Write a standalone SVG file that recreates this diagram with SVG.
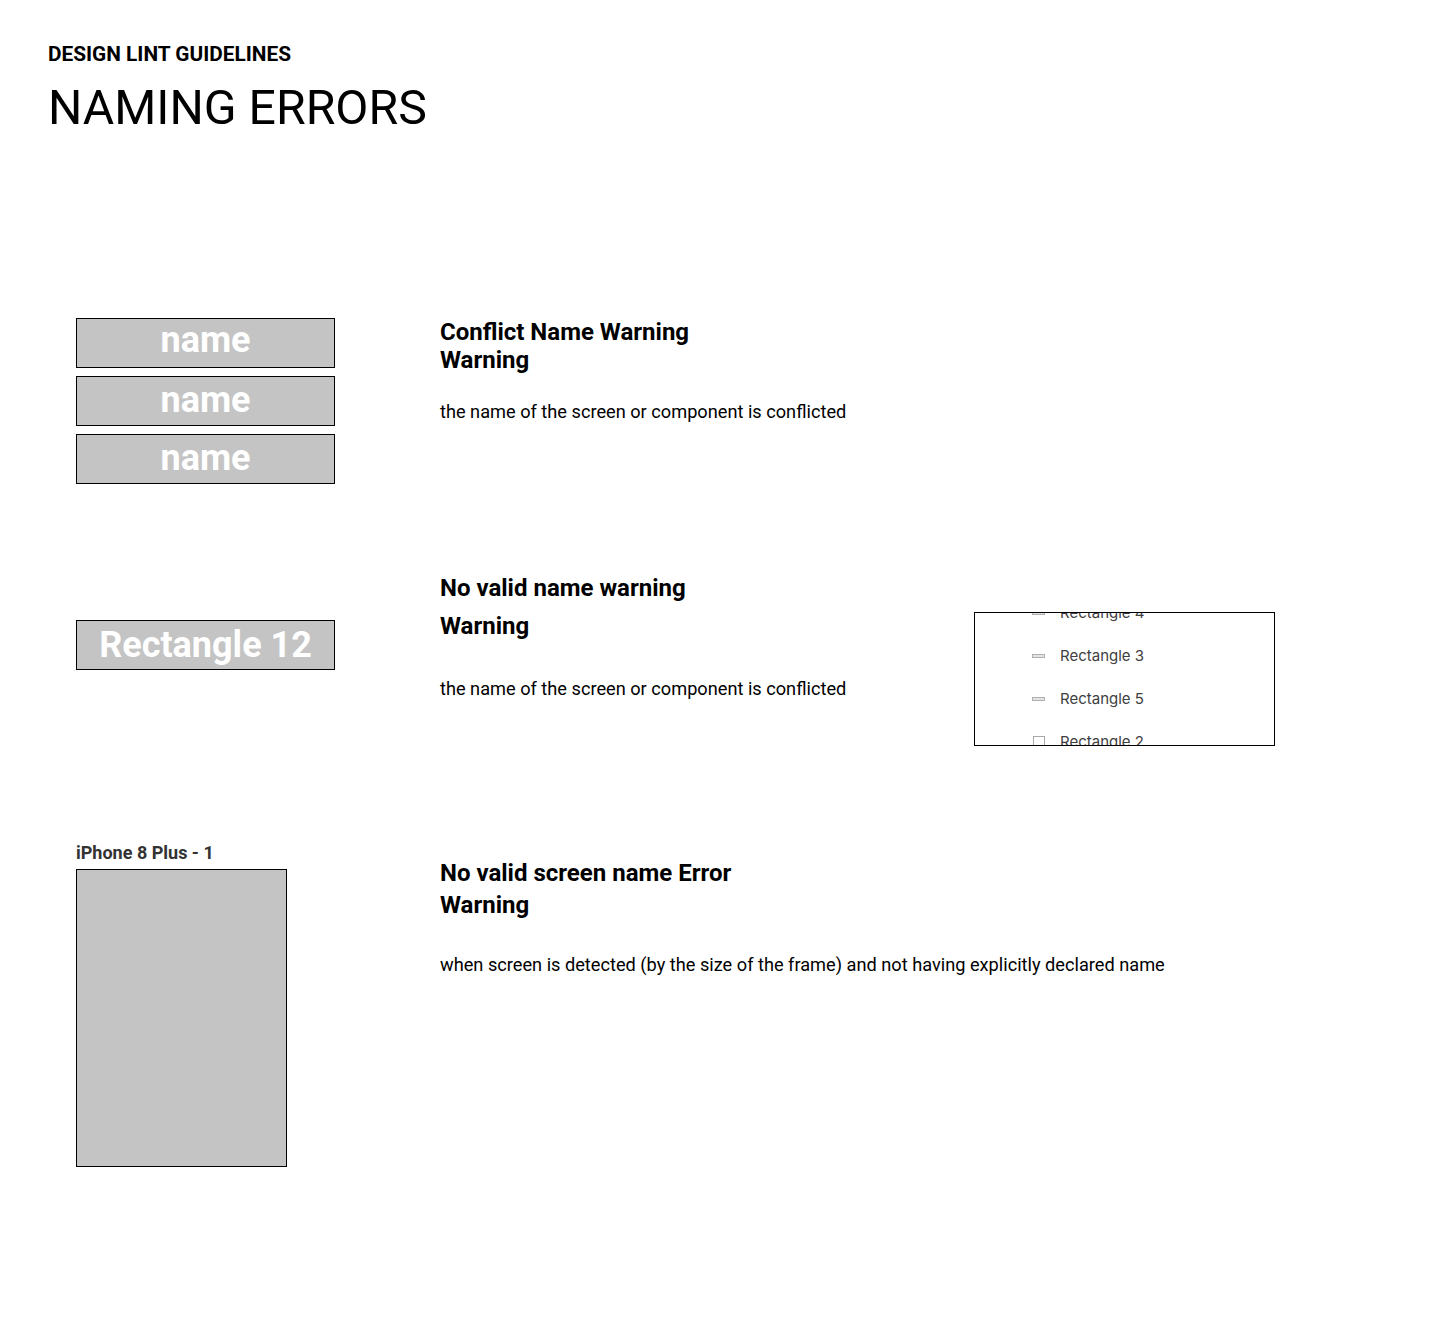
<svg xmlns="http://www.w3.org/2000/svg" width="1440" height="1333" viewBox="0 0 1440 1333">
<style>
.rb{font-family:Roboto,"Liberation Sans",sans-serif;font-weight:bold;}
.rr{font-family:Roboto,"Liberation Sans",sans-serif;font-weight:normal;}
.box{fill:#C4C4C4;stroke:#000;stroke-width:1;}
.lbl{fill:#fff;font-size:36px;text-anchor:middle;}
.h{font-size:24px;fill:#000;}
.b{font-size:18.2px;fill:#000;}
.ly{font-family:Inter,"Liberation Sans",sans-serif;font-size:15px;fill:#404040;}
.bar{fill:#e3e3e3;stroke:#b0b0b0;stroke-width:1;}
</style>
<defs>
<clipPath id="panelClip"><rect x="975" y="613" width="299" height="132"/></clipPath>
</defs>
<rect width="1440" height="1333" fill="#fff"/>
<g id="header">
<text class="rb" x="48" y="61" font-size="20.8" fill="#000">DESIGN LINT GUIDELINES</text>
<text class="rr" x="48" y="124" font-size="48.2" fill="#000">NAMING ERRORS</text>
</g>
<g id="conflict-boxes">
<rect class="box" x="76.5" y="318.5" width="258" height="49"/>
<text class="rb lbl" x="205.5" y="352">name</text>
<rect class="box" x="76.5" y="376.5" width="258" height="49"/>
<text class="rb lbl" x="205.5" y="412">name</text>
<rect class="box" x="76.5" y="434.5" width="258" height="49"/>
<text class="rb lbl" x="205.5" y="470">name</text>
</g>
<g id="conflict-text">
<text class="rb h" x="440" y="340">Conflict Name Warning</text>
<text class="rb h" x="440" y="368">Warning</text>
<text class="rr b" x="440" y="418">the name of the screen or component is conflicted</text>
</g>
<g id="rect12">
<rect class="box" x="76.5" y="620.5" width="258" height="49"/>
<text class="rb lbl" x="205.5" y="657">Rectangle 12</text>
</g>
<g id="novalid-text">
<text class="rb h" x="440" y="596">No valid name warning</text>
<text class="rb h" x="440" y="634">Warning</text>
<text class="rr b" x="440" y="695">the name of the screen or component is conflicted</text>
</g>
<g id="layers-panel">
<g clip-path="url(#panelClip)">
<rect x="975" y="613" width="299" height="132" fill="#fff"/>
<rect class="bar" x="1032.5" y="611.5" width="12" height="3"/>
<text class="ly" x="1060" y="618">Rectangle 4</text>
<rect class="bar" x="1032.5" y="654.5" width="12" height="3"/>
<text class="ly" x="1060" y="661">Rectangle 3</text>
<rect class="bar" x="1032.5" y="697.5" width="12" height="3"/>
<text class="ly" x="1060" y="704">Rectangle 5</text>
<rect x="1033.5" y="736.5" width="11" height="11" fill="#fff" stroke="#a8a8a8" stroke-width="1"/>
<text class="ly" x="1060" y="747">Rectangle 2</text>
</g>
<rect x="974.5" y="612.5" width="300" height="133" fill="none" stroke="#000" stroke-width="1"/>
</g>
<g id="iphone">
<text class="rb" x="76" y="859" font-size="18" fill="#333">iPhone 8 Plus - 1</text>
<rect class="box" x="76.5" y="869.5" width="210" height="297"/>
</g>
<g id="screen-text">
<text class="rb h" x="440" y="881">No valid screen name Error</text>
<text class="rb h" x="440" y="913">Warning</text>
<text class="rr b" x="440" y="971">when screen is detected (by the size of the frame) and not having explicitly declared name</text>
</g>
<g id="connectors"></g>
</svg>
